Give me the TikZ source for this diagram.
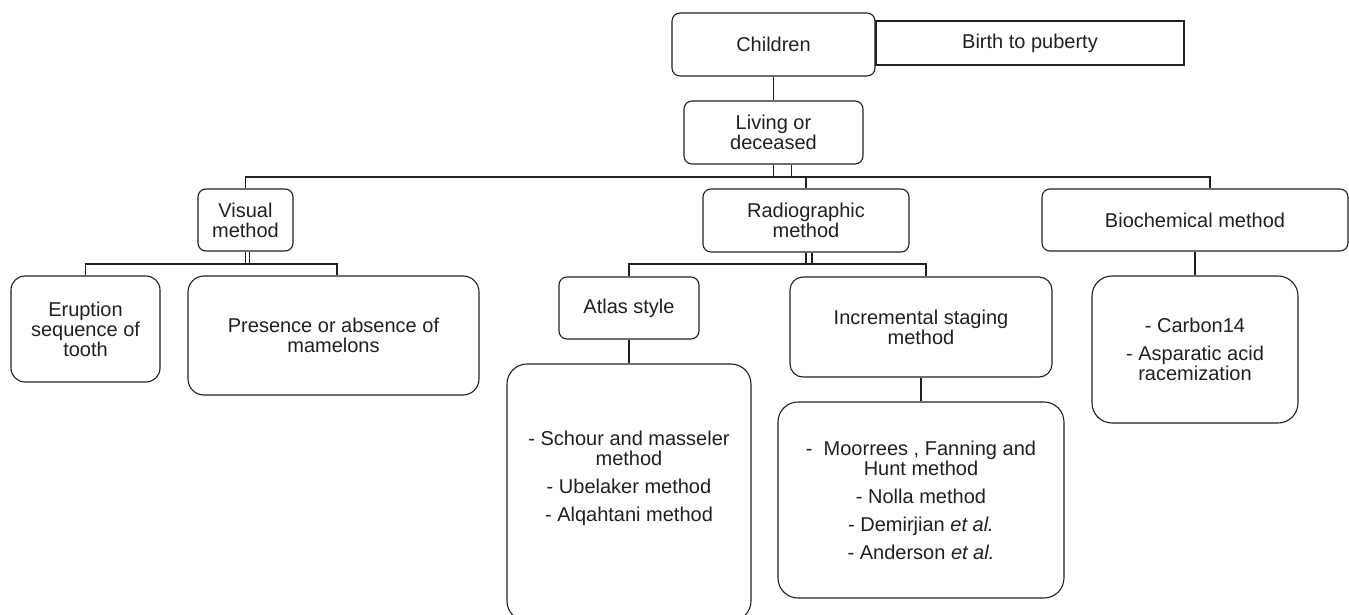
\documentclass[tikz,border=0pt]{standalone}
\usepackage{fontspec}
\setmainfont{Liberation Sans}
\usepackage{tikz}
\usetikzlibrary{positioning}
\definecolor{inkgray}{HTML}{231F20}

\begin{document}
\begin{tikzpicture}[
      x=0.5pt, y=-0.5pt,
      box/.style={rectangle, draw=inkgray, text=inkgray, line width=0.55pt, rounded corners=4pt, align=center, inner sep=2pt, font=\fontsize{10}{10}\selectfont},
      plainbox/.style={box, rounded corners=0pt},
      midbox/.style={box, rounded corners=7pt},
      listbox/.style={box, rounded corners=10pt},
      line/.style={draw=inkgray, line width=0.55pt}
  ]
  \useasboundingbox (0,0) rectangle (1349,615);

  % top of the tree
  \node [box, minimum width=101.5pt, minimum height=31.5pt] (children) at (773.5,44.5) {Children};
  \node [plainbox, minimum width=154pt, minimum height=22pt] (birth) at (1030,43) {Birth to puberty};
  \node [box, minimum width=89.5pt, minimum height=31.5pt] (living) at (773.5,132.5) {Living or\\deceased};

  % methods
  \node [box, minimum width=47.5pt, minimum height=31pt] (visual) at (245.5,220) {Visual\\method};
  \node [box, minimum width=103pt, minimum height=31.5pt] (radio) at (806,220.5) {Radiographic\\method};
  \node [box, minimum width=153pt, minimum height=31pt] (biochem) at (1195,220) {Biochemical method};

  % visual branch
  \node [midbox, minimum width=74.5pt, minimum height=53pt] (eruption) at (85.5,329) {Eruption\\sequence of\\tooth};
  \node [midbox, rounded corners=8pt, minimum width=145.5pt, minimum height=59.5pt] (presence) at (333.5,335.5) {Presence or absence of\\mamelons};

  % radiographic branch
  \node [box, minimum width=70pt, minimum height=31pt] (atlas) at (629,308) {Atlas style};
  \node [box, rounded corners=6.5pt, minimum width=131pt, minimum height=50pt] (incr) at (921,327) {Incremental staging\\method};
  \node [listbox, minimum width=122pt, minimum height=128.5pt, text depth=16pt] (atlaslist) at (629,492.5)
        {- Schour and masseler\\method\\[4pt]- Ubelaker method\\[4pt]- Alqahtani method};
  \node [listbox, minimum width=143pt, minimum height=98pt] (incrlist) at (921,500)
        {-\ \ Moorrees , Fanning and\\Hunt method\\[4pt]- Nolla method\\[4pt]- Demirjian \textit{et al.}\\[4pt]- Anderson \textit{et al.}};

  % biochemical branch
  \node [listbox, minimum width=103pt, minimum height=73.5pt] (biolist) at (1195,349.5)
        {- Carbon14\\[4pt]- Asparatic acid\\racemization};

  \coordinate (bus) at (0,177);
  \coordinate (visbus) at (0,264);

  \path [line] (children) -- (living);
  \path [line] (living.south) -- (living.south |- bus) -- ([xshift=9pt]living.south |- bus) -- ([xshift=9pt]living.south);
  \path [line] (visual.north) -- (visual.north |- bus) -- ([xshift=7.5pt]biochem.north |- bus) -- ([xshift=7.5pt]biochem.north);
  \path [line] (radio.north) -- (radio.north |- bus);

  \path [line] (visual.south) -- (visual.south |- visbus) -- ([xshift=2pt]visual.south |- visbus) -- ([xshift=2pt]visual.south);
  \path [line] (eruption.north) -- (eruption.north |- visbus) -- ([xshift=1.75pt]presence.north |- visbus) -- ([xshift=1.75pt]presence.north);

  \path [line] (radio.south) -- (radio.south |- visbus) -- ([xshift=3pt]radio.south |- visbus) -- ([xshift=3pt]radio.south);
  \path [line] (atlas.north) -- (atlas.north |- visbus) -- ([xshift=2.5pt]incr.north |- visbus) -- ([xshift=2.5pt]incr.north);

  \path [line] (atlas) -- (atlaslist);
  \path [line] (incr) -- (incrlist);
  \path [line] (biochem) -- (biolist);

\end{tikzpicture}
\end{document}
